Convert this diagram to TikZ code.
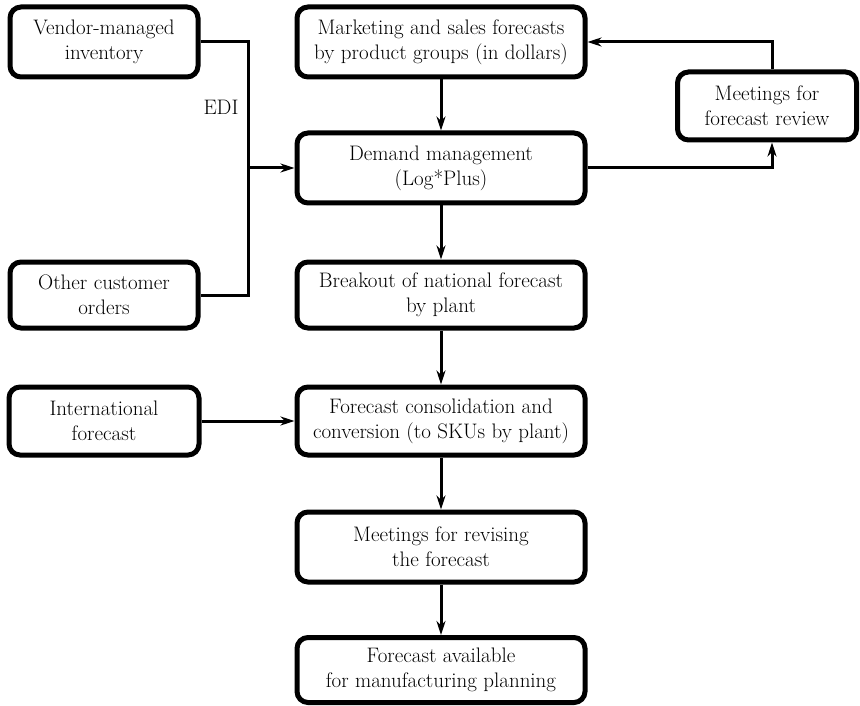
\documentclass[tikz,border=0pt]{standalone}
\usepackage{fontspec}
\usetikzlibrary{arrows.meta}
\begin{document}
\begin{tikzpicture}[x=1pt,y=-1pt,
  lbl/.style={font=\rmfamily\fontsize{21}{25}\selectfont},
  box/.style={lbl, draw, line width=5pt, rounded corners=11pt, align=center,
    inner sep=0pt, execute at begin node={\rule{0pt}{22pt}}},
  conn/.style={line width=3pt},
  arr/.style={conn, -{Stealth[length=14pt,width=9pt]}}]
\useasboundingbox (0,0) rectangle (860,706);

% process boxes
\node[box, minimum width=188pt, minimum height=70pt] (vmi) at (104,42) {Vendor-managed\\inventory};
\node[box, minimum width=288pt, minimum height=70pt] (mkt) at (441,42) {Marketing and sales forecasts\\by product groups (in dollars)};
\node[box, minimum width=179pt, minimum height=68pt] (rev) at (767,106) {Meetings for\\forecast review};
\node[box, minimum width=288pt, minimum height=70pt] (dem) at (441,168) {Demand management\\(Log*Plus)};
\node[box, minimum width=188pt, minimum height=66pt] (oco) at (104,295) {Other customer\\orders};
\node[box, minimum width=288pt, minimum height=66pt] (brk) at (441,295) {Breakout of national forecast\\by plant};
\node[box, minimum width=190pt, minimum height=68pt] (int) at (104,421) {International\\forecast};
\node[box, minimum width=288pt, minimum height=68pt] (con) at (441,421) {Forecast consolidation and\\conversion (to SKUs by plant)};
\node[box, minimum width=288pt, minimum height=70pt] (rvs) at (441,547) {Meetings for revising\\the forecast};
\node[box, minimum width=288pt, minimum height=65pt] (fav) at (441,670) {Forecast available\\for manufacturing planning};

% junction columns
\coordinate (jx) at (248,0);
\coordinate (rx) at (772,0);

% customer order inputs merged into demand management
\draw[conn] (vmi.east) -| (jx |- oco.east) -- (oco.east);
\draw[arr] (jx |- dem.west) -- (dem.west);
\node[lbl] (edi) at (221,107) {EDI};

% main chain
\draw[arr] (mkt.south) -- (dem.north);
\draw[arr] (dem.south) -- (brk.north);
\draw[arr] (brk.south) -- (con.north);
\draw[arr] (int.east) -- (con.west);
\draw[arr] (con.south) -- (rvs.north);
\draw[arr] (rvs.south) -- (fav.north);

% review loop
\draw[arr] (dem.east) -| (rx |- rev.south);
\draw[arr] (rx |- rev.north) |- (mkt.east);
\end{tikzpicture}
\end{document}
